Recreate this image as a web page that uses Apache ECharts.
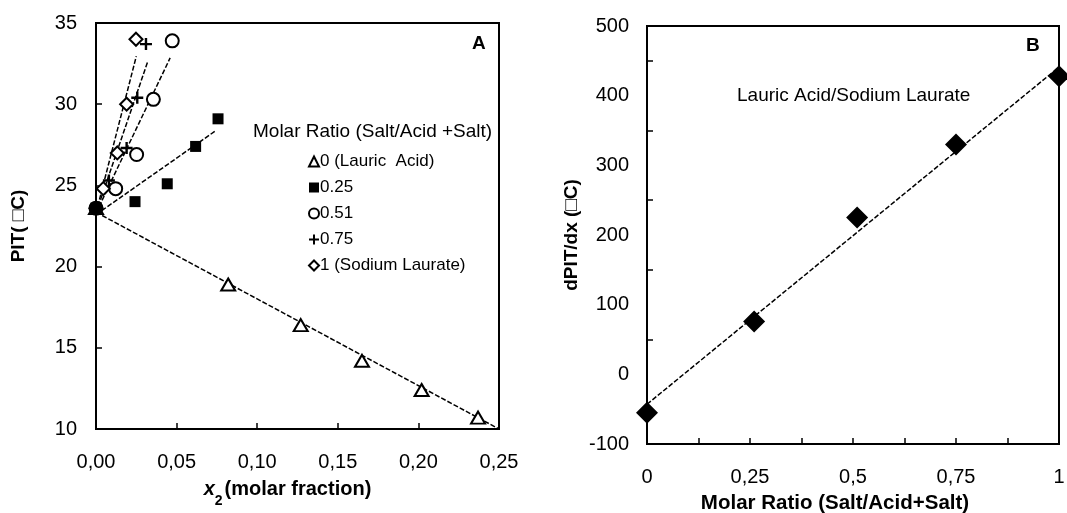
<!DOCTYPE html>
<html>
<head>
<meta charset="utf-8">
<script src="https://cdn.jsdelivr.net/npm/echarts@6/dist/echarts.min.js"></script>
<style>
html,body{margin:0;padding:0;background:#fff;}
#chart{width:1067px;height:513px;}
</style>
</head>
<body>
<div id="chart"></div>
<script>
// ---- Panel A data: x2 (molar fraction) vs PIT (°C) ----
const seriesNames = ['0 (Lauric  Acid)', '0.25', '0.51', '0.75', '1 (Sodium Laurate)'];
const ratio0X = [0, 0.082, 0.127, 0.165, 0.202, 0.237];
const ratio0Y = [23.6, 18.9, 16.4, 14.2, 12.4, 10.7];
const ratio025X = [0, 0.0242, 0.0442, 0.0618, 0.0757];
const ratio025Y = [23.6, 24.0, 25.1, 27.4, 29.1];
const ratio051X = [0, 0.0122, 0.0252, 0.0356, 0.0473];
const ratio051Y = [23.6, 24.8, 26.9, 30.3, 33.9];
const ratio075X = [0, 0.008, 0.019, 0.0256, 0.031];
const ratio075Y = [23.6, 25.3, 27.3, 30.4, 33.7];
const ratio1X = [0, 0.0045, 0.0132, 0.019, 0.0248];
const ratio1Y = [23.6, 24.8, 27.0, 30.0, 34.0];
// trend line end points (x, y)
const trend0 = [[0, 23.35], [0.25, 10.0]];
const trend025 = [[0, 23.2], [0.074, 28.35]];
const trend051 = [[0, 23.3], [0.046, 32.85]];
const trend075 = [[0, 23.3], [0.032, 32.6]];
const trend1 = [[0, 23.3], [0.025, 32.95]];
// ---- Panel B data: molar ratio vs dPIT/dx ----
const molarRatio = [0, 0.26, 0.51, 0.75, 1.0];
const dPITdx = [-55, 76, 225, 330, 428];
const trendB = [[0, -43], [1, 441]];

const FONT = 'Liberation Sans, Arial, sans-serif';
const zip = (a, b) => a.map((v, i) => [v, b[i]]);
const plusPath = 'path://M4,0H6V4H10V6H6V10H4V6H0V4H4Z';

const chart = echarts.init(document.getElementById('chart'));

function markerSeries(name, data, symbol, size, style, z) {
  return { name, type: 'scatter', xAxisIndex: 0, yAxisIndex: 0, data, symbol, symbolSize: size,
    itemStyle: Object.assign({ opacity: 1 }, style), z: z || 5 };
}
function trendSeries(data, xi) {
  return { type: 'line', xAxisIndex: xi, yAxisIndex: xi, data, symbol: 'none', silent: true,
    lineStyle: { color: '#000', width: 1.5, type: [5, 2] }, z: 3 };
}
const emptyStyle = { color: '#fff', borderColor: '#000', borderWidth: 2 };
const LBL = 20;

const option = {
  backgroundColor: '#fff',
  animation: false,
  textStyle: { fontFamily: FONT },
  grid: [
    { left: 96, right: 568, top: 23, bottom: 84, show: true, borderColor: '#000', borderWidth: 2,
      containLabel: false, outerBoundsMode: 'none' },
    { left: 647, right: 8, top: 26, bottom: 69, show: true, borderColor: '#000', borderWidth: 2,
      containLabel: false, outerBoundsMode: 'none' }
  ],
  xAxis: [
    { type: 'value', gridIndex: 0, min: 0, max: 0.25, interval: 0.05,
      axisLine: { show: true, onZero: false, lineStyle: { color: '#000', width: 2 } },
      axisTick: { show: true, inside: true, length: 6, lineStyle: { color: '#000', width: 1.5 } },
      splitLine: { show: false },
      axisLabel: { color: '#000', fontSize: LBL, fontFamily: FONT, margin: 23,
        formatter: v => v.toFixed(2).replace('.', ',') },
      name: '{i|x}{s|2}{n|(molar fraction)}', nameLocation: 'middle', nameGap: 50,
      nameTextStyle: { padding: [0, 20, 0, 0], rich: {
        i: { fontStyle: 'italic', fontWeight: 'bold', fontSize: 20, fontFamily: FONT, color: '#000' },
        s: { fontWeight: 'bold', fontSize: 14, fontFamily: FONT, color: '#000', verticalAlign: 'bottom', padding: [0, 2, -9, 0] },
        n: { fontWeight: 'bold', fontSize: 20, fontFamily: FONT, color: '#000' } } } },
    { type: 'value', gridIndex: 1, min: 0, max: 1, interval: 0.125,
      axisLine: { show: true, onZero: false, lineStyle: { color: '#000', width: 2 } },
      axisTick: { show: true, inside: true, length: 6, lineStyle: { color: '#000', width: 1.5 } },
      splitLine: { show: false },
      axisLabel: { color: '#000', fontSize: LBL, fontFamily: FONT, margin: 23, showMinLabel: true, showMaxLabel: true,
        formatter: v => (Math.abs(v * 4 - Math.round(v * 4)) < 1e-6 ? String(+v.toFixed(2)).replace('.', ',') : '') },
      name: 'Molar Ratio (Salt/Acid+Salt)', nameLocation: 'middle', nameGap: 49,
      nameTextStyle: { fontWeight: 'bold', fontSize: 20.5, fontFamily: FONT, color: '#000', padding: [0, 36, 0, 0] } }
  ],
  yAxis: [
    { type: 'value', gridIndex: 0, min: 10, max: 35, interval: 5,
      axisLine: { show: true, onZero: false, lineStyle: { color: '#000', width: 2 } },
      axisTick: { show: true, inside: true, length: 6, lineStyle: { color: '#000', width: 1.5 } },
      splitLine: { show: false },
      axisLabel: { color: '#000', fontSize: LBL, fontFamily: FONT, margin: 19 },
      name: 'PIT( \u25A1C)', nameLocation: 'middle', nameGap: 68,
      nameTextStyle: { fontWeight: 'bold', fontSize: 19, fontFamily: FONT, color: '#000' } },
    { type: 'value', gridIndex: 1, min: -100, max: 500, interval: 100,
      axisLine: { show: true, onZero: false, lineStyle: { color: '#000', width: 2 } },
      axisTick: { show: false, inside: true },
      minorTick: { show: true, splitNumber: 2, length: 6, lineStyle: { color: '#000', width: 1.5 } },
      splitLine: { show: false },
      axisLabel: { color: '#000', fontSize: LBL, fontFamily: FONT, margin: 18 },
      name: 'dPIT/dx (\u25A1C)', nameLocation: 'middle', nameGap: 66,
      nameTextStyle: { fontWeight: 'bold', fontSize: 19, fontFamily: FONT, color: '#000' } }
  ],
  legend: {
    orient: 'vertical', left: 303, top: 148, itemWidth: 10, itemHeight: 10, itemGap: 9,
    data: seriesNames,
    textStyle: { fontSize: 17, fontFamily: FONT, color: '#000', padding: [0, 0, 0, -4] }
  },
  graphic: [
    { type: 'text', left: 253, top: 122, style: { text: 'Molar Ratio (Salt/Acid +Salt)', font: '19px ' + FONT, fill: '#000' } },
    { type: 'text', left: 472, top: 34, style: { text: 'A', font: 'bold 19px ' + FONT, fill: '#000' } },
    { type: 'text', left: 1026, top: 36, style: { text: 'B', font: 'bold 19px ' + FONT, fill: '#000' } },
    { type: 'text', left: 737, top: 86, style: { text: 'Lauric Acid/Sodium Laurate', font: '19px ' + FONT, fill: '#000' } }
  ],
  series: [
    trendSeries(trend0, 0), trendSeries(trend025, 0), trendSeries(trend051, 0),
    trendSeries(trend075, 0), trendSeries(trend1, 0),
    markerSeries(seriesNames[0], zip(ratio0X, ratio0Y), 'triangle', [14, 12], emptyStyle),
    markerSeries(seriesNames[1], zip(ratio025X, ratio025Y), 'rect', 11, { color: '#000' }, 7),
    markerSeries(seriesNames[2], zip(ratio051X, ratio051Y), 'circle', 13, emptyStyle),
    markerSeries(seriesNames[3], zip(ratio075X, ratio075Y), plusPath, 12, { color: '#000' }, 6),
    markerSeries(seriesNames[4], zip(ratio1X, ratio1Y), 'diamond', 13, emptyStyle),
    trendSeries(trendB, 1),
    { name: 'dPIT/dx', type: 'scatter', xAxisIndex: 1, yAxisIndex: 1, data: zip(molarRatio, dPITdx),
      symbol: 'diamond', symbolSize: 22, itemStyle: { color: '#000', opacity: 1 }, z: 5 }
  ]
};
chart.setOption(option);
</script>
</body>
</html>
